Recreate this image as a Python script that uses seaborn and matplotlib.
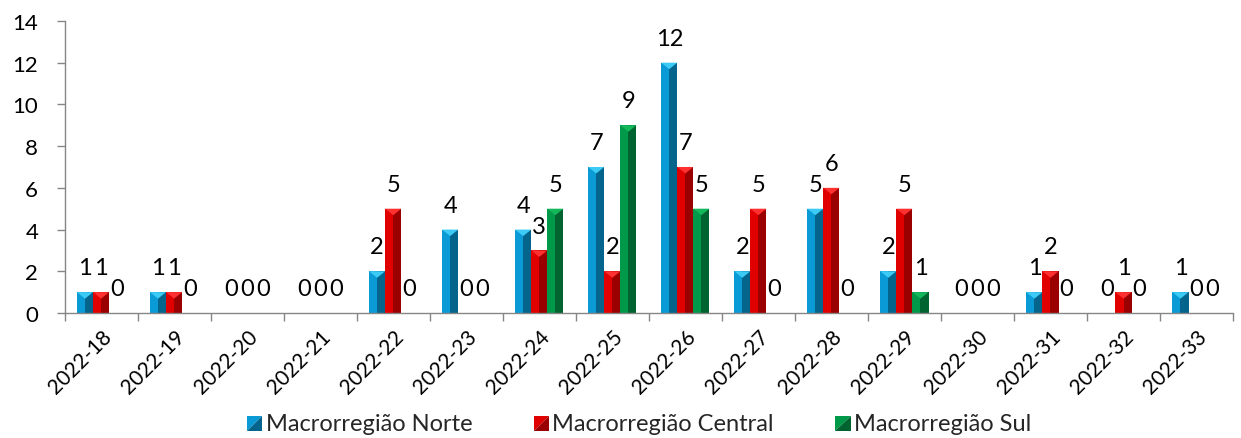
import numpy as np
import pandas as pd
import matplotlib
matplotlib.use("Agg")
import matplotlib.pyplot as plt
from matplotlib.patches import Polygon, Rectangle
from matplotlib.legend_handler import HandlerBase
import seaborn as sns

weeks = ["2022-18", "2022-19", "2022-20", "2022-21", "2022-22", "2022-23",
         "2022-24", "2022-25", "2022-26", "2022-27", "2022-28", "2022-29",
         "2022-30", "2022-31", "2022-32", "2022-33"]
norte = [1, 1, 0, 0, 2, 4, 4, 7, 12, 2, 5, 2, 0, 1, 0, 1]
central = [1, 1, 0, 0, 5, 0, 3, 2, 7, 5, 6, 5, 0, 2, 1, 0]
sul = [0, 0, 0, 0, 0, 0, 5, 9, 5, 0, 0, 1, 0, 0, 0, 0]
series_names = ["Macrorregião Norte", "Macrorregião Central", "Macrorregião Sul"]

# (face, dark right side, light top cap)
shades = {
    "Macrorregião Norte": ("#0A9AD6", "#05648C", "#3CCBF5"),
    "Macrorregião Central": ("#E10000", "#9B0000", "#FF3030"),
    "Macrorregião Sul": ("#00994A", "#006330", "#12B85A"),
}

df = pd.DataFrame({
    "week": weeks * 3,
    "value": norte + central + sul,
    "series": np.repeat(series_names, len(weeks)),
})

sns.set_theme(style="white")
plt.rcParams["font.family"] = ["Lato", "DejaVu Sans"]

fig = plt.figure(figsize=(12.41, 4.39), dpi=100)
ax = fig.add_axes([0.052, 0.2847, 0.9416, 0.6653])

palette = {k: v[0] for k, v in shades.items()}
sns.barplot(data=df, x="week", y="value", hue="series", order=weeks,
            hue_order=series_names, palette=palette, width=0.66,
            saturation=1, linewidth=0, ax=ax, legend=False, errorbar=None)

ax.set_ylim(0, 14)
ax.set_xlim(-0.5, len(weeks) - 0.5)

# pixel -> data conversion for the bevelled bar tops
px_per_unit = ax.get_window_extent().height / 14.0
cap_h = 6.5 / px_per_unit

for cont, name in zip(ax.containers, series_names):
    face, dark, light = shades[name]
    for rect in cont.patches:
        h = rect.get_height()
        if h <= 0:
            continue
        x0 = rect.get_x()
        w = rect.get_width()
        xm = x0 + w / 2
        ax.add_patch(Rectangle((xm, 0), w / 2, h, facecolor=dark,
                               edgecolor="none", zorder=rect.get_zorder() + 0.1))
        ax.add_patch(Polygon([(x0, h), (x0 + w, h), (xm, h - cap_h)], closed=True,
                             facecolor=light, edgecolor="none",
                             zorder=rect.get_zorder() + 0.2))
    ax.bar_label(cont, labels=[str(int(r.get_height())) for r in cont.patches],
                 padding=10, fontsize=17, color="#000000")

# axes styling
for side in ("top", "right"):
    ax.spines[side].set_visible(False)
for side in ("left", "bottom"):
    ax.spines[side].set_color("#868686")
    ax.spines[side].set_linewidth(1.0)

ax.set_yticks(np.arange(0, 15, 2))
ax.tick_params(axis="y", which="major", length=6, width=1, color="#868686",
               direction="out", left=True, labelsize=16, labelcolor="#000000", pad=13)

ax.set_xticks(np.arange(len(weeks)))
ax.set_xticklabels(weeks, rotation=45, ha="right", rotation_mode="anchor",
                   fontsize=15, color="#000000")
ax.tick_params(axis="x", which="major", length=0, pad=9)
ax.set_xticks(np.arange(-0.5, len(weeks), 1.0), minor=True)
ax.tick_params(axis="x", which="minor", length=6, width=1, color="#868686",
               direction="out", bottom=True)
ax.set_xlabel("")
ax.set_ylabel("")


class BevelHandler(HandlerBase):
    def __init__(self, face, dark):
        super().__init__()
        self.face = face
        self.dark = dark

    def create_artists(self, legend, orig_handle, xdescent, ydescent, width,
                       height, fontsize, trans):
        s = min(width, height) * 1.0
        x0 = -xdescent + width - s
        y0 = -ydescent + (height - s) / 2 - 1
        a = Polygon([(x0, y0), (x0, y0 + s), (x0 + s, y0 + s)], closed=True,
                    facecolor=self.face, edgecolor="none", transform=trans)
        b = Polygon([(x0, y0), (x0 + s, y0), (x0 + s, y0 + s)], closed=True,
                    facecolor=self.dark, edgecolor="none", transform=trans)
        return [a, b]


handles = [Rectangle((0, 0), 1, 1) for _ in series_names]
handler_map = {h: BevelHandler(shades[n][0], shades[n][1])
               for h, n in zip(handles, series_names)}
fig.legend(handles, series_names, handler_map=handler_map, loc="center",
           bbox_to_anchor=(0.515, 0.032), ncol=3, frameon=False, fontsize=17,
           handlelength=0.65, handleheight=0.65, handletextpad=0.15,
           columnspacing=2.6)

fig.savefig("out.png", dpi=100)
